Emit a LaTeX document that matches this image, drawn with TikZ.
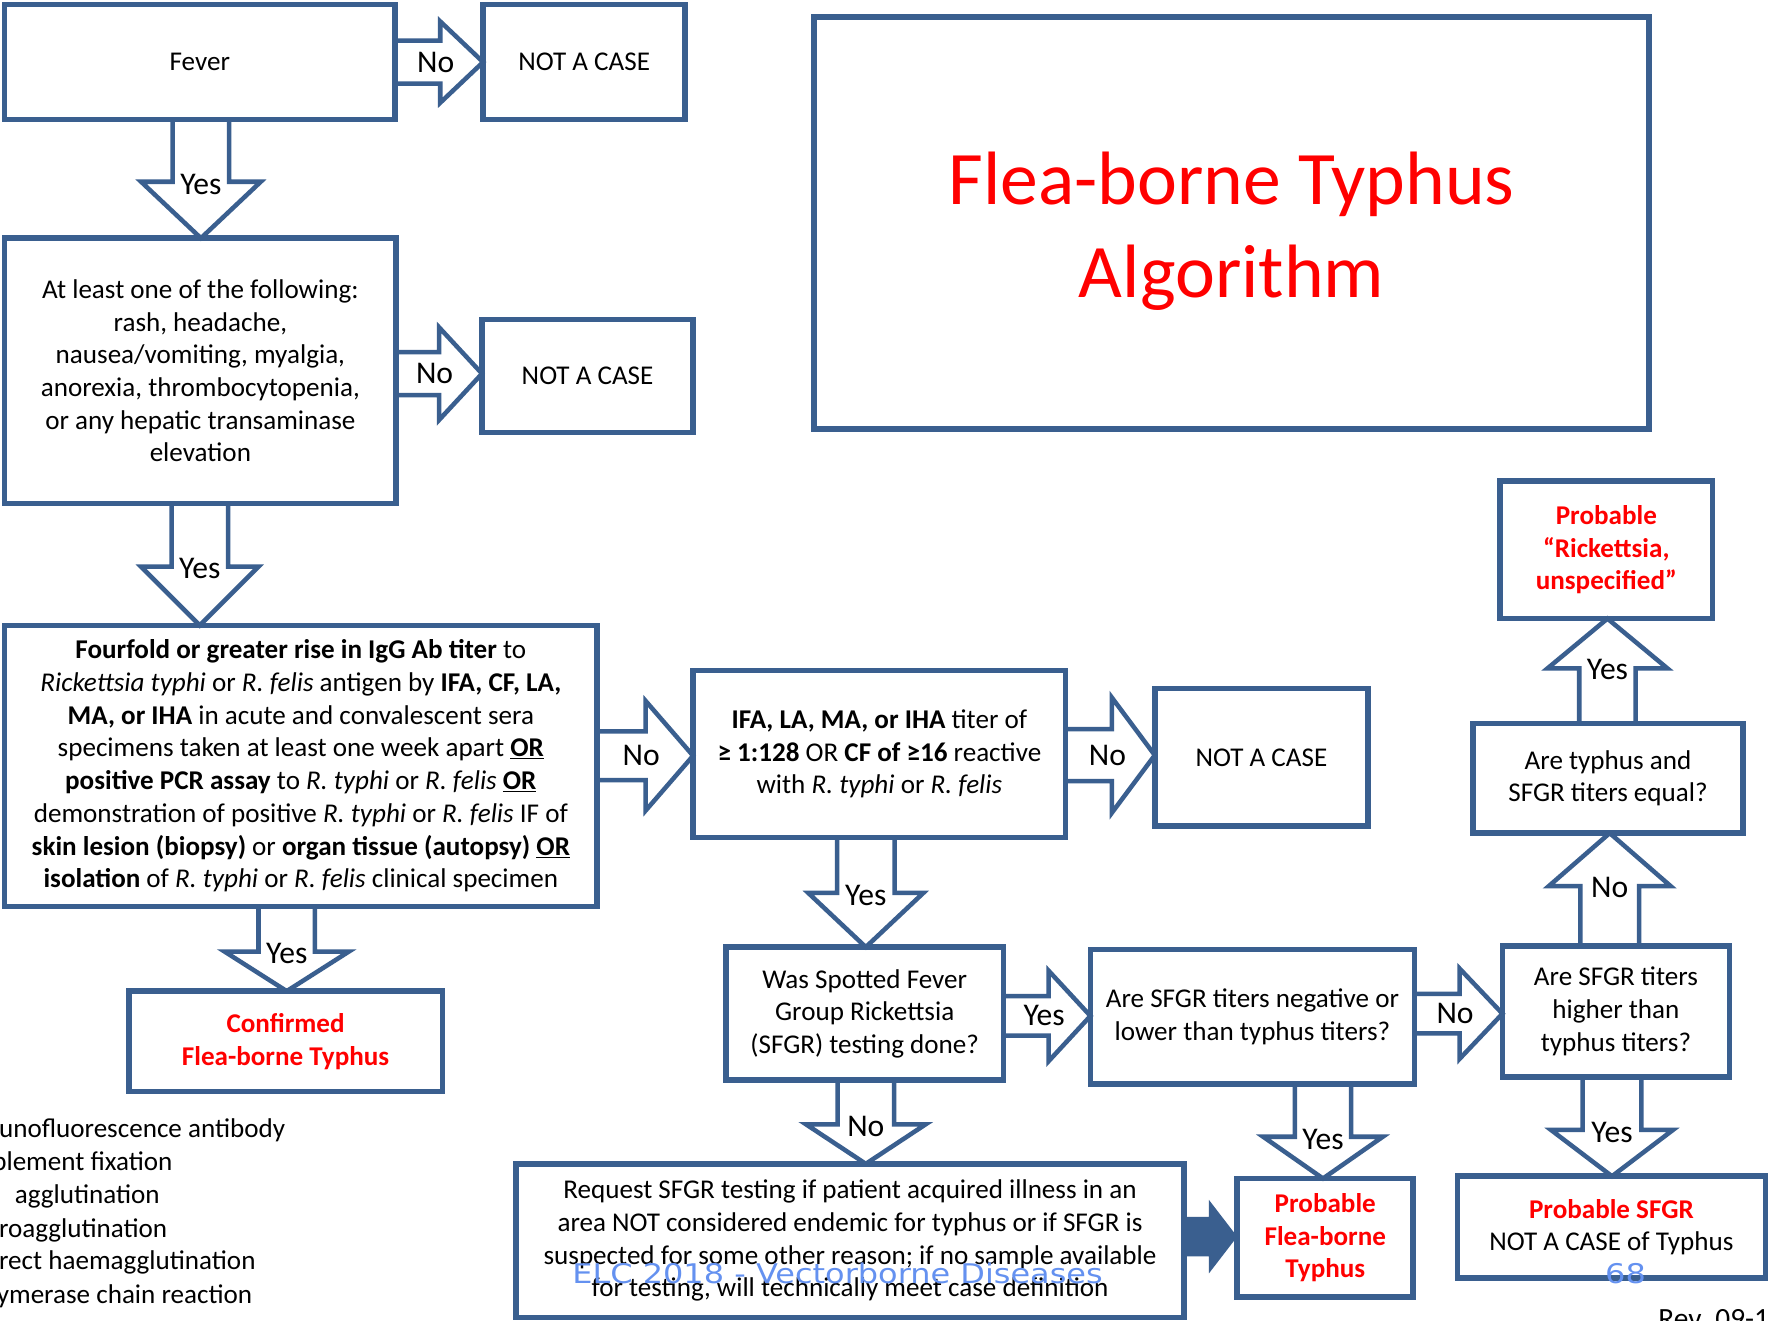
\documentclass[tikz,border=0pt]{standalone}
\usepackage{fontspec}
\setmainfont{Carlito}
\newfontfamily\footfont[FakeStretch=1.18]{DejaVu Sans}
\usetikzlibrary{calc}
\definecolor{bdr}{HTML}{3A5F8F}
\definecolor{redt}{HTML}{FF0000}
\definecolor{footc}{RGB}{100,145,240}
\newcommand\nsz{\fontsize{24}{29}\selectfont}
\tikzset{
  box/.style={draw=bdr, line width=5pt, inner sep=0pt, outer sep=0pt, align=center, font=\nsz, text=black},
  redbox/.style={box, text=redt, font=\nsz\bfseries},
  blk/.style={draw=bdr, line width=4pt, line join=miter},
  lbl/.style={font=\fontsize{28}{32}\selectfont, inner sep=0pt, text=black},
  legend/.style={font=\nsz, inner sep=0pt, anchor=base west, text=black}
}
% right arrow: from, to, y, shaft half, head half, head length, label
\newcommand\rarr[7]{%
  \draw[blk] let \p1=(#1.east), \p2=(#2.west) in
    (\x1,{-#3pt+#4pt}) -- ({\x2-#6pt},{-#3pt+#4pt}) -- ({\x2-#6pt},{-#3pt+#5pt}) -- (\x2,-#3pt)
    -- ({\x2-#6pt},{-#3pt-#5pt}) -- ({\x2-#6pt},{-#3pt-#4pt}) -- (\x1,{-#3pt-#4pt});
  \path let \p2=(#2.west) in node[lbl] at ({\x2-#6pt-4pt},-#3pt) {#7};
}
% down arrow: from, to, x, shaft half, head half, head length, label
\newcommand\darr[7]{%
  \draw[blk] let \p1=(#1.south), \p2=(#2.north) in
    ({#3pt-#4pt},\y1) -- ({#3pt-#4pt},{\y2+#6pt}) -- ({#3pt-#5pt},{\y2+#6pt}) -- (#3pt,\y2)
    -- ({#3pt+#5pt},{\y2+#6pt}) -- ({#3pt+#4pt},{\y2+#6pt}) -- ({#3pt+#4pt},\y1);
  \path let \p2=(#2.north) in node[lbl] at (#3pt,{\y2+#6pt-2pt}) {#7};
}
% up arrow: from (lower box), to (upper box), x, shaft half, head half, head length, label
\newcommand\uarr[7]{%
  \draw[blk] let \p1=(#1.north), \p2=(#2.south) in
    ({#3pt-#4pt},\y1) -- ({#3pt-#4pt},{\y2-#6pt}) -- ({#3pt-#5pt},{\y2-#6pt}) -- (#3pt,\y2)
    -- ({#3pt+#5pt},{\y2-#6pt}) -- ({#3pt+#4pt},{\y2-#6pt}) -- ({#3pt+#4pt},\y1);
  \path let \p2=(#2.south) in node[lbl] at (#3pt,{\y2-#6pt-1pt}) {#7};
}
\begin{document}
\begin{tikzpicture}[x=1pt,y=1pt]
\useasboundingbox (0,0) rectangle (1568,-1170);
\fill[white] (0,0) rectangle (1568,-1170);

% boxes
\node[box, minimum width=346, minimum height=102] (fever) at (177,-55) {Fever};
\node[box, minimum width=179, minimum height=102] (nac1) at (517.5,-55) {NOT A CASE};
\node[box, minimum width=347, minimum height=235] (sym) at (177.5,-328.5)
  {At least one of the following:\\ rash, headache,\\ nausea/vomiting, myalgia,\\ anorexia, thrombocytopenia,\\ or any hepatic transaminase\\ elevation};
\node[box, minimum width=187, minimum height=100] (nac2) at (520.5,-333) {NOT A CASE};
\node[box, minimum width=525, minimum height=249] (lab) at (266.5,-678.5)
  {\textbf{Fourfold or greater rise in IgG Ab titer} to\\
   \textit{Rickettsia typhi} or \textit{R. felis} antigen by \textbf{IFA, CF, LA,}\\
   \textbf{MA, or IHA} in acute and convalescent sera\\
   specimens taken at least one week apart \textbf{\underline{OR}}\\
   \textbf{positive PCR assay} to \textit{R. typhi} or \textit{R. felis} \textbf{\underline{OR}}\\
   demonstration of positive \textit{R. typhi} or \textit{R. felis} IF of\\
   \textbf{skin lesion (biopsy)} or \textbf{organ tissue (autopsy)} \textbf{\underline{OR}}\\
   \textbf{isolation} of \textit{R. typhi} or \textit{R. felis} clinical specimen};
\node[box, minimum width=330, minimum height=148] (titer) at (779,-668)
  {\textbf{IFA, LA, MA, or IHA} titer of\\ \textbf{≥ 1:128} OR \textbf{CF of ≥16} reactive\\ with \textit{R. typhi} or \textit{R. felis}};
\node[box, minimum width=189, minimum height=122] (nac3) at (1117.5,-671) {NOT A CASE};
\node[box, minimum width=246, minimum height=118] (sfgrdone) at (766,-898)
  {Was Spotted Fever\\ Group Rickettsia\\ (SFGR) testing done?};
\node[box, minimum width=287, minimum height=119] (lower) at (1109.5,-900.5)
  {Are SFGR titers negative or\\ lower than typhus titers?};
\node[box, minimum width=201, minimum height=116] (higher) at (1431.5,-896)
  {Are SFGR titers\\ higher than\\ typhus titers?};
\node[box, minimum width=239, minimum height=97] (equal) at (1424.5,-689.5)
  {Are typhus and\\ SFGR titers equal?};
\node[redbox, minimum width=188, minimum height=122] (unspec) at (1423,-487)
  {Probable\\ “Rickettsia,\\ unspecified”};
\node[box, minimum width=273, minimum height=90] (probsfgr) at (1427.5,-1087)
  {\textcolor{redt}{\textbf{Probable SFGR}}\\ NOT A CASE of Typhus};
\node[redbox, minimum width=156, minimum height=105] (probfb) at (1174,-1096.5)
  {Probable\\ Flea-borne\\ Typhus};
\node[box, minimum width=592, minimum height=136] (request) at (753,-1099)
  {Request SFGR testing if patient acquired illness in an\\
   area NOT considered endemic for typhus or if SFGR is\\
   suspected for some other reason; if no sample available\\
   for testing, will technically meet case definition};
\node[redbox, minimum width=278, minimum height=89] (confirmed) at (253,-922.5)
  {Confirmed\\ Flea-borne Typhus};
\node[box, minimum width=740, minimum height=365] (title) at (1091,-197.5) {};
\node[align=center, inner sep=0pt, text=redt, font=\fontsize{67}{82}\selectfont] (titletext) at (1091,-205)
  {Flea-borne Typhus\\ Algorithm};

% block arrows
\rarr{fever}{nac1}{55}{19}{36}{38}{No}
\darr{fever}{sym}{178}{25}{53}{50}{Yes}
\rarr{sym}{nac2}{331}{19}{41}{38}{No}
\darr{sym}{lab}{177}{25}{52}{52}{Yes}
\darr{lab}{confirmed}{254}{25}{55}{35}{Yes}
\rarr{lab}{titer}{669.5}{21.5}{48.5}{42}{No}
\rarr{titer}{nac3}{669}{23}{51}{38}{No}
\darr{titer}{sfgrdone}{767}{25.5}{51}{48}{Yes}
\rarr{sfgrdone}{lower}{900}{17.5}{40}{37}{Yes}
\rarr{lower}{higher}{898}{17.5}{40}{38}{No}
\uarr{higher}{equal}{1426}{26}{54}{47}{No}
\uarr{equal}{unspec}{1424}{25}{53}{44}{Yes}
\darr{higher}{probsfgr}{1428}{26}{54}{41}{Yes}
\darr{lower}{probfb}{1172}{25}{53}{37}{Yes}
\darr{sfgrdone}{request}{767}{25}{53}{35}{No}
% solid arrow
\fill[bdr] let \p1=(request.east), \p2=(probfb.west) in
  (\x1,-1078pt) -- ({\x2-25pt},-1078pt) -- ({\x2-25pt},-1063pt) -- (\x2,-1095.5pt)
  -- ({\x2-25pt},-1128pt) -- ({\x2-25pt},-1113pt) -- (\x1,-1113pt) -- cycle;

% legend (cut off at the left edge)
\node[legend] (leg1) at (-1,-1008) {unofluorescence antibody};
\node[legend] (leg2) at (-7,-1037) {plement fixation};
\node[legend] (leg3) at (13,-1066) {agglutination};
\node[legend] (leg4) at (-1,-1096) {roagglutination};
\node[legend] (leg5) at (-1,-1125) {rect haemagglutination};
\node[legend] (leg6) at (-3,-1155) {ymerase chain reaction};

% footer
\node[font=\footfont\fontsize{24}{29}\selectfont, text=footc, inner sep=0pt] (footer) at (742,-1128) {ELC 2018 - Vectorborne Diseases};
\node[font=\footfont\fontsize{24}{29}\selectfont, text=footc, inner sep=0pt] (page) at (1440,-1128) {68};
\node[legend, font=\fontsize{26}{30}\selectfont] (rev) at (1469,-1177) {Rev. 09-18};
\end{tikzpicture}
\end{document}
